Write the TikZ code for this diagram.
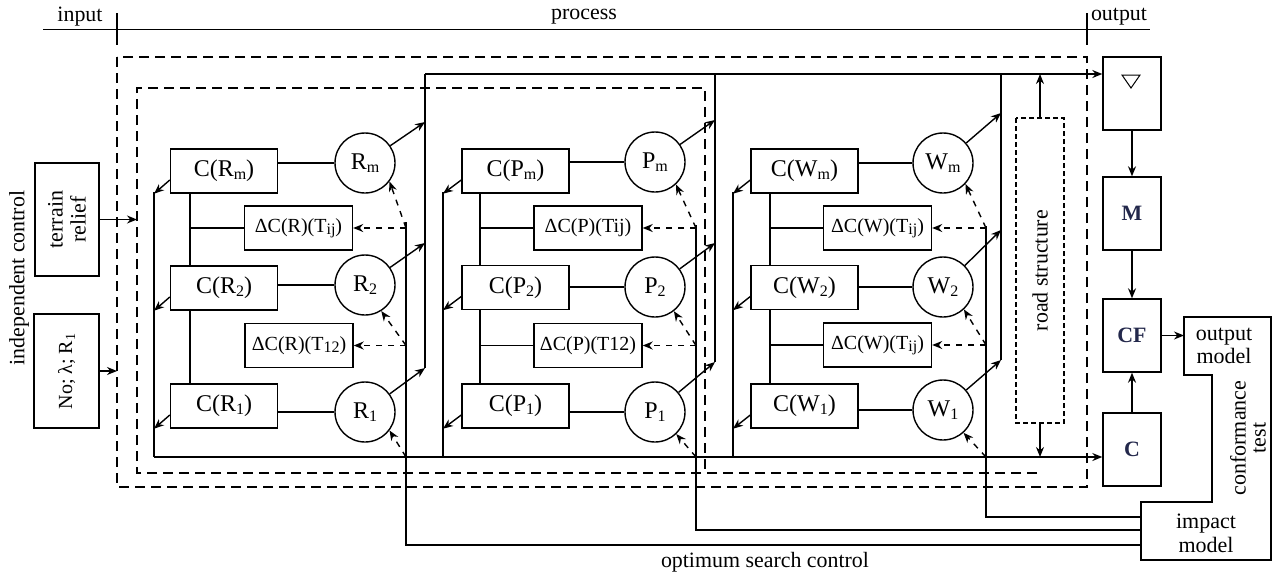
\documentclass[tikz,border=0pt,11pt]{standalone}
\usepackage{fontspec}
\setmainfont{Liberation Serif}
\usetikzlibrary{arrows.meta}
\definecolor{ink}{RGB}{35,40,75}
\newcommand\lo[1]{\raisebox{-.25ex}{\scriptsize #1}}

\begin{document}
\begin{tikzpicture}
[x=0.5pt,y=-0.5pt,>={Stealth[length=5pt,width=4pt]},line width=0.7pt,
cbox/.style = {draw, fill = white, minimum width = 53.5pt, minimum height = 22pt, inner sep = 0pt, font = \large},
dbox/.style = {draw, minimum width = 54pt, minimum height = 22pt, inner sep = 0pt, font = \small},
elem/.style = {draw, circle, minimum size = 30pt, inner sep = 0pt, font = \large},
obox/.style = {draw, minimum width = 29pt, minimum height = 36.5pt, inner sep = 0pt, font = \bfseries, text = ink},
ctrl/.style = {dashed, ->},
bigdash/.style = {dash pattern = on 5pt off 3pt},]

\useasboundingbox (0,0) rectangle (1274,574);

% header
\draw (43,29.5) -- (1150,29.5);
\draw (117,13) -- (117,45);
\draw (1087,13) -- (1087,45);
\node (in) at (80,17) {input};
\node (proc) at (584,17) {process};
\node (out) at (1119,17) {output};

\draw [bigdash] (117,57) rectangle (1087,487);
\draw [bigdash] (1037,473) -- (137,473) -- (137,88) -- (705,88) -- (705,473);
\coordinate (ol) at (117,57);
\coordinate (il) at (137,88);

% inputs
\node (ctl) at (19,278)[rotate=90] {independent control};
\node (relief) at (67,219.5)[draw, rotate=90, align=center, minimum width=56.5pt, minimum height=32pt, inner sep=0pt, font=\fontsize{11}{11.5}\selectfont] {terrain\\relief};
\node (No) at (66.5,371)[draw, rotate=90, minimum width=57pt, minimum height=32.5pt, inner sep=0pt, font=\small] {No; λ; R\textsubscript{1}};
\draw [->] (relief.south) -- (relief.south -| il);
\draw [->] (No.south) -- (No.south -| ol);

% R
\node (CRm) at (224,171)[cbox] {C(R\lo{m})};
\node (CR2) at (224,288)[cbox] {C(R\lo{2})};
\node (CR1) at (224,406)[cbox] {C(R\lo{1})};
\node (dRij) at (298.5,228)[dbox] {ΔC(R)(T\lo{ij})};
\node (dR12) at (299,345.5)[dbox] {ΔC(R)(T\lo{12})};
\node (Rm) at (365,163)[elem] {R\lo{m}};
\node (R2) at (365,285)[elem] {R\lo{2}};
\node (R1) at (365,412)[elem] {R\lo{1}};
\coordinate (Rtop) at (425,74);
\coordinate (Ra3) at (425,122);
\coordinate (Ra2) at (425,243);
\coordinate (Ra1) at (425,368);
\coordinate (Rl) at (154,192);
\coordinate (Rlb) at (154,457);
\coordinate (Rv) at (190,193);
\coordinate (Ri) at (406,222);
\coordinate (Rie) at (406,545);

% P
\node (CPm) at (515.5,171)[cbox] {C(P\lo{m})};
\node (CP2) at (515.5,287.5)[cbox] {C(P\lo{2})};
\node (CP1) at (515.5,406)[cbox] {C(P\lo{1})};
\node (dPij) at (588,228)[dbox] {ΔC(P)(Tij)};
\node (dP12) at (588,345.5)[dbox] {ΔC(P)(T12)};
\node (Pm) at (655,162)[elem] {P\lo{m}};
\node (P2) at (655,287)[elem] {P\lo{2}};
\node (P1) at (655,412)[elem] {P\lo{1}};
\coordinate (Ptop) at (715,74);
\coordinate (Pa3) at (715,120);
\coordinate (Pa2) at (715,243);
\coordinate (Pa1) at (715,362);
\coordinate (Pl) at (443,192);
\coordinate (Pv) at (480,193);
\coordinate (Pi) at (696,225);
\coordinate (Pie) at (696,530);

% W
\node (CWm) at (804.5,171)[cbox] {C(W\lo{m})};
\node (CW2) at (804.5,287.5)[cbox] {C(W\lo{2})};
\node (CW1) at (804.5,406)[cbox] {C(W\lo{1})};
\node (dWij) at (877.5,228)[dbox] {ΔC(W)(T\lo{ij})};
\node (dW12) at (877.5,345)[dbox] {ΔC(W)(T\lo{ij})};
\node (Wm) at (943,163)[elem] {W\lo{m}};
\node (W2) at (943,287)[elem] {W\lo{2}};
\node (W1) at (943,410)[elem] {W\lo{1}};
\coordinate (Wtop) at (1001,74);
\coordinate (Wa3) at (1001,113);
\coordinate (Wa2) at (1001,230);
\coordinate (Wa1) at (1001,360);
\coordinate (Wl) at (733,192);
\coordinate (Wv) at (770,193);
\coordinate (Wi) at (986,226);
\coordinate (Wie) at (986,517);

\node (road) at (1040,270.5)[draw, dash pattern=on 2.5pt off 1.5pt, rotate=90, minimum width=152.5pt, minimum height=24pt, inner sep=0pt] {road structure};

% outputs
\node (nabla) at (1132,93.5)[obox] {};
\node (M) at (1132,213.5)[obox] {M};
\node (CF) at (1132,335.5)[obox] {CF};
\node (Cb) at (1132,449.5)[obox] {C};
\draw [line width=0.5pt] (1122,75) -- (1140,75) -- (1131,88) -- cycle;
\coordinate (om) at (1184,317);
\coordinate (imp) at (1141,502);
\draw (om) -- (1271,317) -- (1271,560) -- (1141,560) -- (imp) -- (1212,502) -- (1212,375) -- (1184,375) -- cycle;
\node (omt) at (1224,346)[align=center, font=\fontsize{11}{11.5}\selectfont] {output\\model};
\node (conf) at (1248,438)[rotate=90, align=center, font=\fontsize{11}{10}\selectfont] {conformance\\test};
\node (imt) at (1206,533)[align=center, font=\fontsize{11}{12}\selectfont] {impact\\model};
\node (opt) at (765,562) {optimum search control};

% buses
\draw (Ra1) -- (Rtop);
\draw (Pa1) -- (Ptop);
\draw (Wa1) -- (Wtop);
\draw [->] (Rtop) -- (Rtop -| nabla.west);
\draw (Rl) -- (Rlb);
\draw (Pl) -- (Pl |- Rlb);
\draw (Wl) -- (Wl |- Rlb);
\draw [->] (Rlb) -- (Rlb -| Cb.west);
\draw [->] (road.east) -- (road.east |- Rtop);
\draw [->] (road.west) -- (road.west |- Rlb);
\draw (Ri) -- (Rie) -- (Rie -| imp);
\draw (Pi) -- (Pie) -- (Pie -| imp);
\draw (Wi) -- (Wie) -- (Wie -| imp);

\draw [->] (nabla) -- (M);
\draw [->] (M) -- (CF);
\draw [->] (Cb) -- (CF);
\draw [->] (CF) -- (CF -| om);

% R links
\draw (Rv |- CRm.south) -- (Rv |- CR2.north);
\draw (Rv |- CR2.south) -- (Rv |- CR1.north);
\draw (Rv |- dRij.west) -- (dRij.west);
\draw (CRm.east |- Rm) -- (Rm);
\draw (CR2.east |- R2) -- (R2);
\draw (CR1.east |- R1) -- (R1);
\draw [->] (Rm) -- (Ra3);
\draw [->] (R2) -- (Ra2);
\draw [->] (R1) -- (Ra1);
\draw [->] ([yshift=-4.5pt]CRm.west) -- (Rl |- CRm.south);
\draw [->] ([yshift=-4.5pt]CR2.west) -- (Rl |- CR2.south);
\draw [->] ([yshift=-4.5pt]CR1.west) -- (Rl |- CR1.south);
\draw [ctrl] (Ri |- dRij.east) -- (dRij.east);
\draw [ctrl] (Ri |- dRij.east) -- (Rm.-37);
\draw [ctrl] (Ri |- dR12.east) -- (dR12.east);
\draw [ctrl] (Ri |- dR12.east) -- (R2.-58);
\draw [ctrl] (Ri |- Rlb) -- (R1.-37);

% P links
\draw (Pv |- CPm.south) -- (Pv |- CP2.north);
\draw (Pv |- CP2.south) -- (Pv |- CP1.north);
\draw (Pv |- dPij.west) -- (dPij.west);
\draw (Pv |- dP12.west) -- (dP12.west);
\draw (CPm.east |- Pm) -- (Pm);
\draw (CP2.east |- P2) -- (P2);
\draw (CP1.east |- P1) -- (P1);
\draw [->] (Pm) -- (Pa3);
\draw [->] (P2) -- (Pa2);
\draw [->] (P1) -- (Pa1);
\draw [->] ([yshift=-4.5pt]CPm.west) -- (Pl |- CPm.south);
\draw [->] ([yshift=-4.5pt]CP2.west) -- (Pl |- CP2.south);
\draw [->] ([yshift=-4.5pt]CP1.west) -- (Pl |- CP1.south);
\draw [ctrl] (Pi |- dPij.east) -- (dPij.east);
\draw [ctrl] (Pi |- dPij.east) -- (Pm.-47);
\draw [ctrl] (Pi |- dP12.east) -- (dP12.east);
\draw [ctrl] (Pi |- dP12.east) -- (P2.-52);
\draw [ctrl] (Pi |- Rlb) -- (P1.-46);

% W links
\draw (Wv |- CWm.south) -- (Wv |- CW2.north);
\draw (Wv |- CW2.south) -- (Wv |- CW1.north);
\draw (Wv |- dWij.west) -- (dWij.west);
\draw (Wv |- dW12.west) -- (dW12.west);
\draw (CWm.east |- Wm) -- (Wm);
\draw (CW2.east |- W2) -- (W2);
\draw (CW1.east |- W1) -- (W1);
\draw [->] (Wm) -- (Wa3);
\draw [->] (W2) -- (Wa2);
\draw [->] (W1) -- (Wa1);
\draw [->] ([yshift=-4.5pt]CWm.west) -- (Wl |- CWm.south);
\draw [->] ([yshift=-4.5pt]CW2.west) -- (Wl |- CW2.south);
\draw [->] ([yshift=-4.5pt]CW1.west) -- (Wl |- CW1.south);
\draw [ctrl] (Wi |- dWij.east) -- (dWij.east);
\draw [ctrl] (Wi |- dWij.east) -- (Wm.-43);
\draw [ctrl] (Wi |- dW12.east) -- (dW12.east);
\draw [ctrl] (Wi |- dW12.east) -- (W2.-47);
\draw [ctrl] (Wi |- Rlb) -- (W1.-48);

\end{tikzpicture}
\end{document}
